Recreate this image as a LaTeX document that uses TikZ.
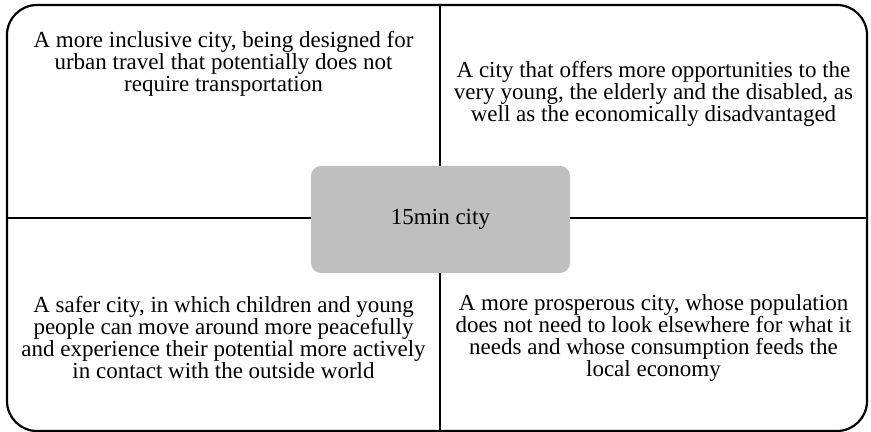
\documentclass[tikz,border=0pt]{standalone}
\usepackage{fontspec}
\setmainfont{Liberation Serif}
\begin{document}
\begin{tikzpicture}[x=0.5pt,y=-0.5pt,line width=0.8pt]
	\tikzset{
		txt/.style={align=center, inner sep=0pt, font=\fontsize{11.5}{11}\selectfont},
		hub/.style={txt, fill=gray!50, rounded corners=5pt, minimum width=129.5pt, minimum height=53.5pt}
	}
	\useasboundingbox (0,0) rectangle (871,432);
	\coordinate (T) at (440,  5);
	\coordinate (B) at (440,431);
	\coordinate (L) at (  7,218);
	\coordinate (R) at (867,218);
	\draw[line width=1.1pt, rounded corners=15pt] (7,5) rectangle (867,431);
	\draw (T) -- (B);
	\draw (L) -- (R);
	\node (C) at (440.5,219.5)	[hub]	{15min city};
	\node (Q1) at (223.5, 64)	[txt]	{A more inclusive city, being designed for\\urban travel that potentially does not\\require transportation};
	\node (Q2) at (653.5, 94)	[txt]	{A city that offers more opportunities to the\\very young, the elderly and the disabled, as\\well as the economically disadvantaged};
	\node (Q3) at (223.5,338)	[txt]	{A safer city, in which children and young\\people can move around more peacefully\\and experience their potential more actively\\in contact with the outside world};
	\node (Q4) at (653.5,338)	[txt]	{A more prosperous city, whose population\\does not need to look elsewhere for what it\\needs and whose consumption feeds the\\local economy};
\end{tikzpicture}
\end{document}
